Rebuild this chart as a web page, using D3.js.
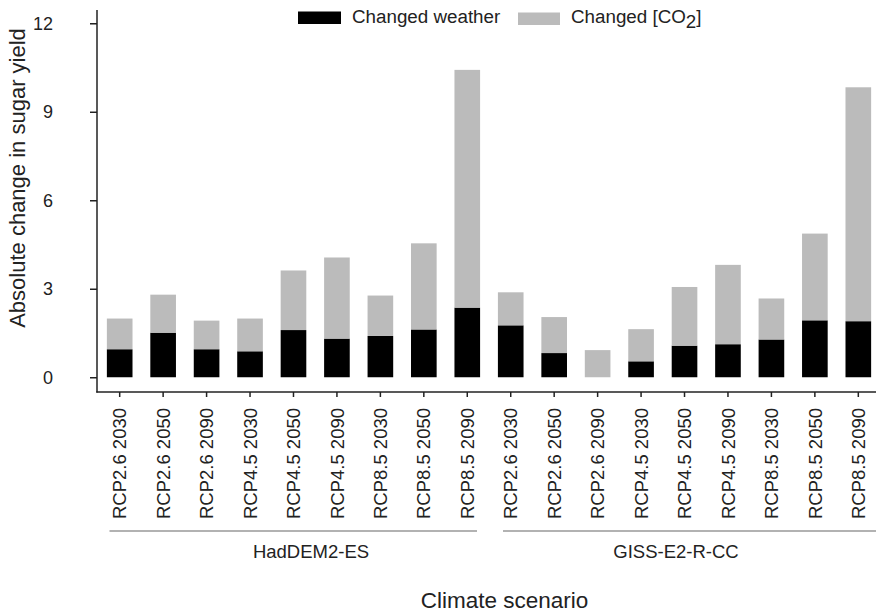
<!DOCTYPE html>
<html>
<head>
<meta charset="utf-8">
<script src="https://cdn.jsdelivr.net/npm/d3@7"></script>
<style>
  body { margin: 0; background: #fff; }
  svg text { font-family: "Liberation Sans", Arial, sans-serif; fill: #222; }
</style>
</head>
<body>
<div id="chart"></div>
<script>
// Data
const scenarios = [
  "RCP2.6 2030", "RCP2.6 2050", "RCP2.6 2090",
  "RCP4.5 2030", "RCP4.5 2050", "RCP4.5 2090",
  "RCP8.5 2030", "RCP8.5 2050", "RCP8.5 2090",
  "RCP2.6 2030", "RCP2.6 2050", "RCP2.6 2090",
  "RCP4.5 2030", "RCP4.5 2050", "RCP4.5 2090",
  "RCP8.5 2030", "RCP8.5 2050", "RCP8.5 2090"
];
const models = ["HadDEM2-ES", "GISS-E2-R-CC"];
const weather = [0.95, 1.51, 0.95, 0.88, 1.60, 1.31, 1.40, 1.62, 2.36,
                 1.76, 0.82, 0.00, 0.54, 1.07, 1.12, 1.28, 1.93, 1.90];
const co2 = [1.04, 1.29, 0.97, 1.11, 2.02, 2.75, 1.37, 2.92, 8.06,
             1.12, 1.22, 0.92, 1.09, 1.99, 2.69, 1.39, 2.94, 7.93];
const yTicks = [0, 3, 6, 9, 12];

// Colors
const weatherFill = "#000000";
const co2Fill = "#bbbbbb";
const axisColor = "#222222";

const width = 876;
const height = 614;

const svg = d3.select("#chart").append("svg")
  .attr("width", width)
  .attr("height", height);

const rows = scenarios.map((s, i) => ({ key: i, label: s, weather: weather[i], co2: co2[i] }));

const x = d3.scaleBand()
  .domain(rows.map(d => d.key))
  .range([106, 872])
  .paddingInner(0.41)
  .paddingOuter(0.02);

const y = d3.scaleLinear()
  .domain([-0.5, 12.45])
  .range([392, 10]);

// Stacked bars
const stack = d3.stack().keys(["weather", "co2"]);
const series = stack(rows);
const fills = { weather: weatherFill, co2: co2Fill };

svg.append("g")
  .selectAll("g")
  .data(series)
  .join("g")
  .attr("fill", s => fills[s.key])
  .selectAll("rect")
  .data(s => s)
  .join("rect")
  .attr("x", d => x(d.data.key))
  .attr("width", x.bandwidth())
  .attr("y", d => y(d[1]))
  .attr("height", d => Math.max(0, y(d[0]) - y(d[1])));

// Axis lines
svg.append("line")
  .attr("x1", 97).attr("x2", 97)
  .attr("y1", 10).attr("y2", 392.5)
  .attr("stroke", axisColor).attr("stroke-width", 1.5);
svg.append("line")
  .attr("x1", 96.25).attr("x2", 876)
  .attr("y1", 392).attr("y2", 392)
  .attr("stroke", axisColor).attr("stroke-width", 1.5);

// Y axis
const yAxis = svg.append("g")
  .attr("transform", "translate(97,0)")
  .call(d3.axisLeft(y).tickValues(yTicks).tickSize(7).tickSizeOuter(0).tickPadding(37));
yAxis.select(".domain").remove();
yAxis.selectAll("line").attr("stroke", axisColor).attr("stroke-width", 1.5);
yAxis.selectAll("text")
  .attr("font-size", "18px")
  .style("font-family", "Liberation Sans, Arial, sans-serif")
  .attr("fill", "#222");

// X axis
const xAxis = svg.append("g")
  .attr("transform", "translate(0,392)")
  .call(d3.axisBottom(x).tickSize(5).tickSizeOuter(0).tickFormat(i => scenarios[i]));
xAxis.select(".domain").remove();
xAxis.selectAll("line").attr("stroke", axisColor).attr("stroke-width", 1.5);
xAxis.selectAll("text")
  .attr("font-size", "18.5px")
  .style("font-family", "Liberation Sans, Arial, sans-serif")
  .attr("fill", "#222")
  .attr("transform", "rotate(-90)")
  .attr("text-anchor", "end")
  .attr("x", -16)
  .attr("y", 0)
  .attr("dy", "0.36em");

// Model group lines and labels
const groups = [
  { name: models[0], x1: 109.5, x2: 477, cx: 311 },
  { name: models[1], x1: 503, x2: 876, cx: 676 }
];
svg.selectAll("line.group")
  .data(groups)
  .join("line")
  .attr("class", "group")
  .attr("x1", d => d.x1).attr("x2", d => d.x2)
  .attr("y1", 531).attr("y2", 531)
  .attr("stroke", "#999").attr("stroke-width", 1.5);
svg.selectAll("text.group")
  .data(groups)
  .join("text")
  .attr("class", "group")
  .attr("x", d => d.cx)
  .attr("y", 558)
  .attr("text-anchor", "middle")
  .attr("font-size", "18.5px")
  .text(d => d.name);

// Axis titles
svg.append("text")
  .attr("x", 504.5)
  .attr("y", 608)
  .attr("text-anchor", "middle")
  .attr("font-size", "22.5px")
  .text("Climate scenario");

svg.append("text")
  .attr("transform", "translate(25,178) rotate(-90)")
  .attr("text-anchor", "middle")
  .attr("font-size", "22px")
  .text("Absolute change in sugar yield");

// Legend
const legend = svg.append("g");
legend.append("rect")
  .attr("x", 298).attr("y", 11.5).attr("width", 43).attr("height", 12.5)
  .attr("fill", weatherFill);
legend.append("text")
  .attr("x", 352).attr("y", 23)
  .attr("font-size", "18.8px")
  .text("Changed weather");
legend.append("rect")
  .attr("x", 518).attr("y", 12.5).attr("width", 42).attr("height", 12.5)
  .attr("fill", co2Fill);
const co2Label = legend.append("text")
  .attr("x", 571).attr("y", 23)
  .attr("font-size", "18.8px");
co2Label.append("tspan").text("Changed [CO");
co2Label.append("tspan").attr("dy", 5).text("2");
co2Label.append("tspan").attr("dy", -5).text("]");
</script>
</body>
</html>
